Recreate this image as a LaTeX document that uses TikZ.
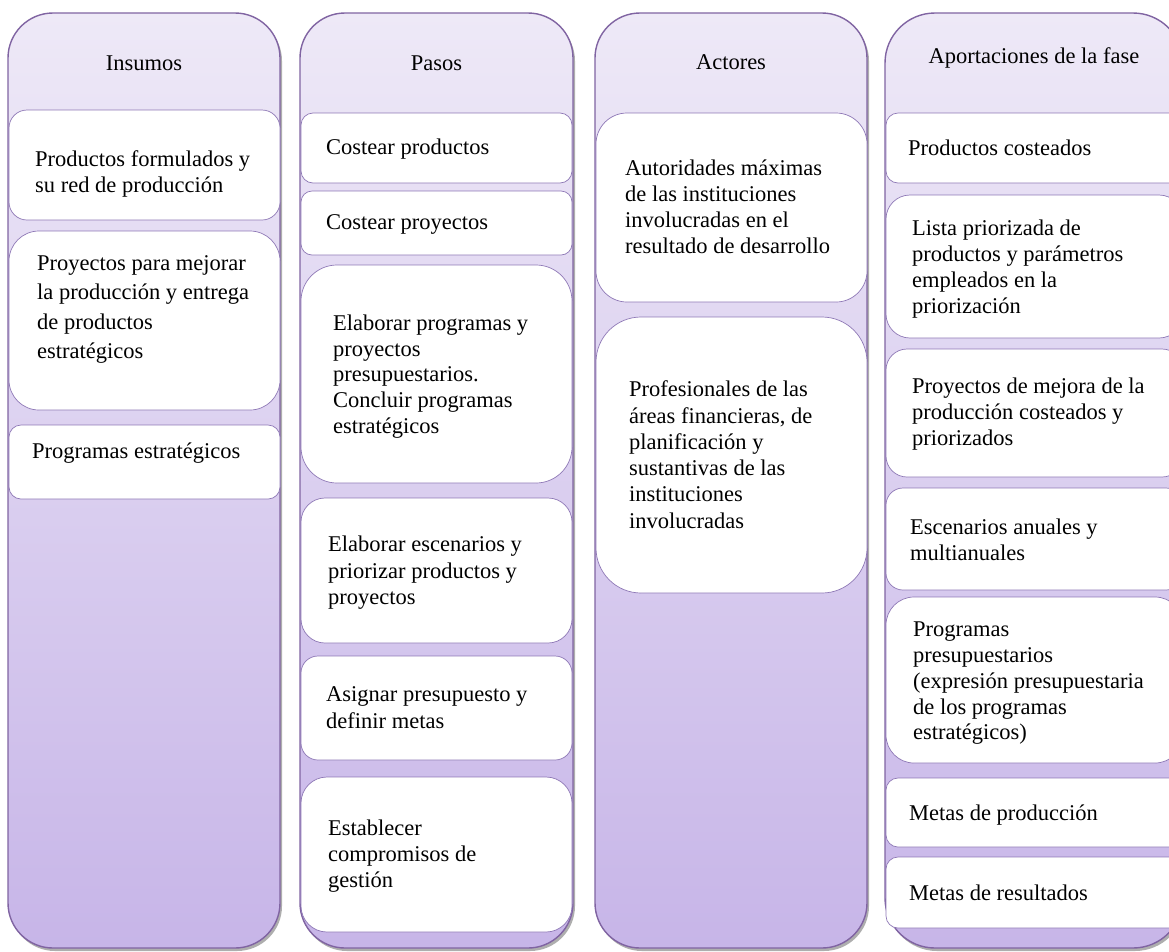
\documentclass[tikz,border=0pt]{standalone}
\usepackage{fontspec}
\setmainfont{Liberation Serif}
\usetikzlibrary{shadows}
\definecolor{colline}{RGB}{128,100,162}
\definecolor{coltop}{RGB}{238,233,247}
\definecolor{colbot}{RGB}{199,181,232}
\definecolor{boxline}{RGB}{142,120,182}
\begin{document}
\begin{tikzpicture}[x=1pt,y=-1pt,
  column/.style={draw=colline, line width=1.4pt, top color=coltop, bottom color=colbot,
    rounded corners=45pt, anchor=north west, inner sep=0pt, outer sep=0pt,
    drop shadow={shadow xshift=2pt, shadow yshift=-3pt, fill=black!45, opacity=0.7}},
  wbox/.style={draw=boxline, line width=0.7pt, fill=white, anchor=north west,
    inner sep=0pt, outer sep=0pt},
  txt/.style={anchor=base west, inner sep=0pt, font=\fontsize{22.5}{26.4}\selectfont},
  head/.style={anchor=base, inner sep=0pt, font=\fontsize{22.5}{26.4}\selectfont}]
\useasboundingbox (0,0) rectangle (1169,951);
\clip (0,0) rectangle (1169,951);
\fill[white] (0,0) rectangle (1169,951);

% columns
\node[column, minimum width=272pt, minimum height=935pt] (col1) at (8,13) {};
\node[column, minimum width=273pt, minimum height=935pt] (col2) at (300,13) {};
\node[column, minimum width=272pt, minimum height=935pt] (col3) at (595,13) {};
\node[column, minimum width=298pt, minimum height=935pt, rounded corners=50pt] (col4) at (885,13) {};

% headers
\node[head] (h1) at (144,70) {Insumos};
\node[head] (h2) at (436.5,70) {Pasos};
\node[head] (h3) at (731,69) {Actores};
\node[head] (h4) at (1034,63) {Aportaciones de la fase};

% column 1 boxes
\node[wbox, minimum width=271pt, minimum height=110pt, rounded corners=18pt] (a1) at (9,110) {};
\node[wbox, minimum width=271pt, minimum height=179pt, rounded corners=30pt] (a2) at (9,231) {};
\node[wbox, minimum width=271pt, minimum height=74pt, rounded corners=12pt] (a3) at (9,425) {};

% column 2 boxes
\node[wbox, minimum width=271pt, minimum height=70pt, rounded corners=12pt] (b1) at (301,113) {};
\node[wbox, minimum width=271pt, minimum height=64pt, rounded corners=11pt] (b2) at (301,191) {};
\node[wbox, minimum width=271pt, minimum height=218pt, rounded corners=36pt] (b3) at (301,265) {};
\node[wbox, minimum width=271pt, minimum height=145pt, rounded corners=24pt] (b4) at (301,498) {};
\node[wbox, minimum width=271pt, minimum height=104pt, rounded corners=17pt] (b5) at (301,656) {};
\node[wbox, minimum width=271pt, minimum height=155pt, rounded corners=26pt] (b6) at (301,777) {};

% column 3 boxes
\node[wbox, minimum width=271pt, minimum height=189pt, rounded corners=31pt] (c1) at (596,113) {};
\node[wbox, minimum width=271pt, minimum height=276pt, rounded corners=45pt] (c2) at (596,317) {};

% column 4 boxes
\node[wbox, minimum width=297pt, minimum height=70pt, rounded corners=12pt] (d1) at (886,113) {};
\node[wbox, minimum width=297pt, minimum height=143pt, rounded corners=24pt] (d2) at (886,195) {};
\node[wbox, minimum width=297pt, minimum height=128pt, rounded corners=21pt] (d3) at (886,349) {};
\node[wbox, minimum width=297pt, minimum height=102pt, rounded corners=17pt] (d4) at (886,488) {};
\node[wbox, minimum width=297pt, minimum height=166pt, rounded corners=28pt] (d5) at (886,597) {};
\node[wbox, minimum width=297pt, minimum height=69pt, rounded corners=12pt] (d6) at (886,778) {};
\node[wbox, minimum width=297pt, minimum height=71pt, rounded corners=12pt] (d7) at (886,857) {};

% texts column 1
\node[txt] (ta1) at (35,166.5) {\parbox[t]{260pt}{\raggedright Productos formulados y\\su red de producción}};
\node[txt, font=\fontsize{22.5}{29.2}\selectfont] (ta2) at (37,270.7) {\parbox[t]{260pt}{\raggedright Proyectos para mejorar\\la producción y entrega\\de productos\\estratégicos}};
\node[txt] (ta3) at (32,458) {\parbox[t]{260pt}{\raggedright Programas estratégicos}};

% texts column 2
\node[txt] (tb1) at (326,154) {\parbox[t]{260pt}{\raggedright Costear productos}};
\node[txt] (tb2) at (326,229) {\parbox[t]{260pt}{\raggedright Costear proyectos}};
\node[txt, font=\fontsize{22.5}{25.6}\selectfont] (tb3) at (333,330.7) {\parbox[t]{260pt}{\raggedright Elaborar programas y\\proyectos\\presupuestarios.\\Concluir programas\\estratégicos}};
\node[txt] (tb4) at (328,551.7) {\parbox[t]{260pt}{\raggedright Elaborar escenarios y\\priorizar productos y\\proyectos}};
\node[txt] (tb5) at (326,701.7) {\parbox[t]{260pt}{\raggedright Asignar presupuesto y\\definir metas}};
\node[txt] (tb6) at (328,835) {\parbox[t]{260pt}{\raggedright Establecer\\compromisos de\\gestión}};

% texts column 3
\node[txt, font=\fontsize{22.5}{26.3}\selectfont] (tc1) at (625,175) {\parbox[t]{260pt}{\raggedright Autoridades máximas\\de las instituciones\\involucradas en el\\resultado de desarrollo}};
\node[txt, font=\fontsize{22.5}{26.3}\selectfont] (tc2) at (629,396.7) {\parbox[t]{260pt}{\raggedright Profesionales de las\\áreas financieras, de\\planificación y\\sustantivas de las\\instituciones\\involucradas}};

% texts column 4
\node[txt] (td1) at (908,155) {\parbox[t]{260pt}{\raggedright Productos costeados}};
\node[txt, font=\fontsize{22.5}{26}\selectfont] (td2) at (912,235) {\parbox[t]{260pt}{\raggedright Lista priorizada de\\productos y parámetros\\empleados en la\\priorización}};
\node[txt] (td3) at (912,393) {\parbox[t]{260pt}{\raggedright Proyectos de mejora de la\\producción costeados y\\priorizados}};
\node[txt, font=\fontsize{22.5}{26}\selectfont] (td4) at (910,534) {\parbox[t]{260pt}{\raggedright Escenarios anuales y\\multianuales}};
\node[txt, font=\fontsize{22.5}{25.8}\selectfont] (td5) at (913,636.7) {\parbox[t]{260pt}{\raggedright Programas\\presupuestarios\\(expresión presupuestaria\\de los programas\\estratégicos)}};
\node[txt] (td6) at (909,820) {\parbox[t]{260pt}{\raggedright Metas de producción}};
\node[txt] (td7) at (909,900) {\parbox[t]{260pt}{\raggedright Metas de resultados}};
\end{tikzpicture}
\end{document}
